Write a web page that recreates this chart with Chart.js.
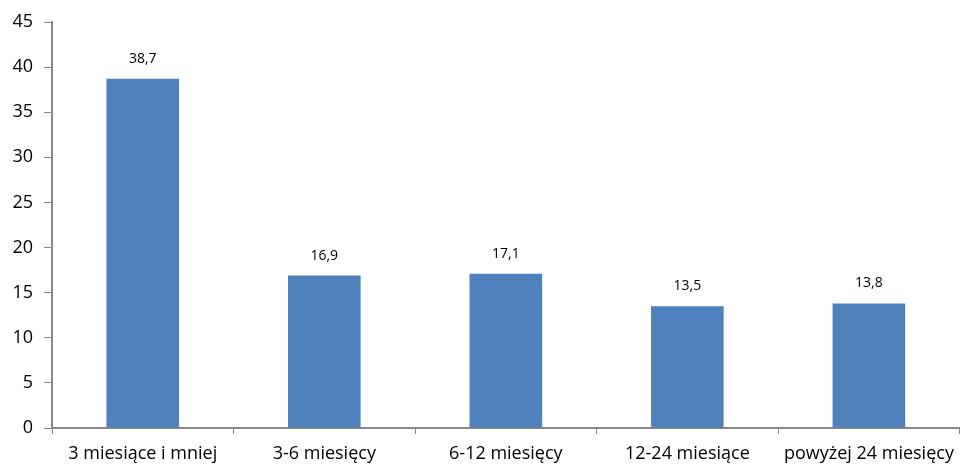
<!DOCTYPE html>
<html>
<head>
<meta charset="utf-8">
<script src="https://cdn.jsdelivr.net/npm/chart.js@4/dist/chart.umd.min.js"></script>
<style>
  html, body { margin: 0; padding: 0; background: #fff; }
  #wrap { width: 963px; height: 466px; }
</style>
</head>
<body>
<div id="wrap"><canvas id="c"></canvas></div>
<script>
const categories = ['3 miesiące i mniej', '3-6 miesięcy', '6-12 miesięcy', '12-24 miesiące', 'powyżej 24 miesięcy'];
const values = [38.7, 16.9, 17.1, 13.5, 13.8];
const yTicks = [0, 5, 10, 15, 20, 25, 30, 35, 40, 45];

const FONT = '"Open Sans", Lato, sans-serif';
const AXIS = '#878787';

// Value labels above each bar, using Polish decimal comma
const valueLabels = {
  id: 'valueLabels',
  afterDatasetsDraw(chart) {
    const ctx = chart.ctx;
    const meta = chart.getDatasetMeta(0);
    ctx.save();
    ctx.font = '14px ' + FONT;
    ctx.fillStyle = '#000';
    ctx.textAlign = 'center';
    ctx.textBaseline = 'middle';
    meta.data.forEach((bar, i) => {
      ctx.fillText(values[i].toFixed(1).replace('.', ','), bar.x, bar.y - 20);
    });
    ctx.restore();
  }
};

new Chart(document.getElementById('c'), {
  type: 'bar',
  data: {
    labels: categories,
    datasets: [{
      data: values,
      backgroundColor: '#4F81BD',
      borderWidth: 0,
      barPercentage: 0.4,
      categoryPercentage: 1.0
    }]
  },
  options: {
    responsive: true,
    maintainAspectRatio: false,
    animation: false,
    layout: { padding: { top: 22, right: 1, left: 0, bottom: 0 } },
    plugins: { legend: { display: false }, tooltip: { enabled: false } },
    scales: {
      x: {
        grid: { display: true, drawOnChartArea: false, drawTicks: true, tickLength: 6, color: AXIS, offset: true },
        border: { display: true, color: AXIS, width: 2 },
        ticks: { color: '#000', font: { family: FONT, size: 18 }, padding: 9, maxRotation: 0, autoSkip: false },
        afterFit(scale) { scale.height = 38; }
      },
      y: {
        min: 0,
        max: 45,
        afterBuildTicks(scale) { scale.ticks = yTicks.map(v => ({ value: v })); },
        grid: { display: true, drawOnChartArea: false, drawTicks: true, tickLength: 8, color: AXIS },
        border: { display: true, color: AXIS, width: 2 },
        ticks: { color: '#000', font: { family: FONT, size: 18 }, padding: 11 },
        afterFit(scale) { scale.width = 52; }
      }
    }
  },
  plugins: [valueLabels]
});
</script>
</body>
</html>
